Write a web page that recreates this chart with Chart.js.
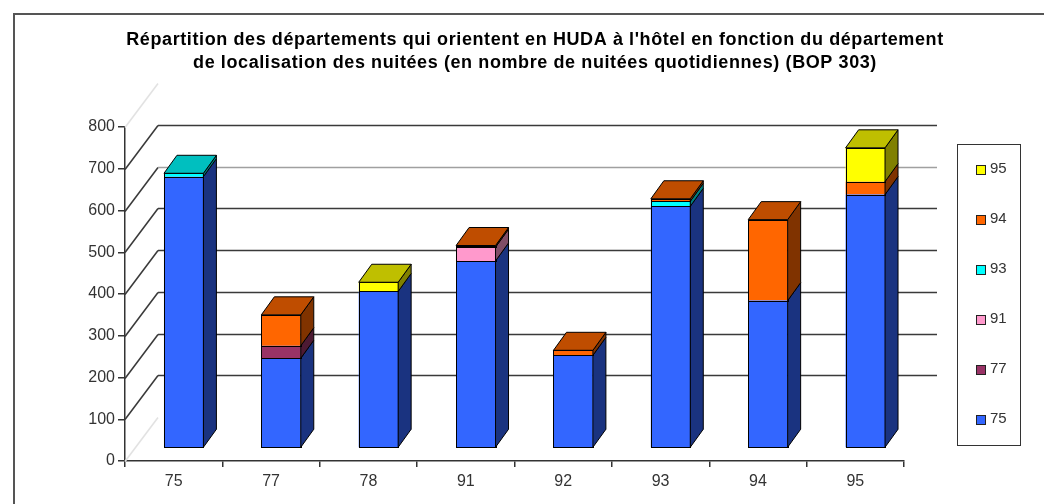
<!DOCTYPE html>
<html>
<head>
<meta charset="utf-8">
<script src="https://cdn.jsdelivr.net/npm/chart.js@4/dist/chart.umd.min.js"></script>
<style>
  html, body { margin: 0; padding: 0; background: #fff; }
  canvas { display: block; }
</style>
</head>
<body>
<canvas id="chart" width="1044" height="504"></canvas>
<script>
const TITLE = [
  "Répartition des départements qui orientent en HUDA à l'hôtel en fonction du département",
  "de localisation des nuitées (en nombre de nuitées quotidiennes) (BOP 303)"
];
const categories = ["75", "77", "78", "91", "92", "93", "94", "95"];
const yTicks = [0, 100, 200, 300, 400, 500, 600, 700, 800];

// nightly stays per orienting department, stacked bottom first
const dep75 = [650, 215, 375, 448, 222, 579, 353, 607];
const dep77 = [null, 30, null, null, null, null, null, null];
const dep91 = [null, null, null, 33, null, null, null, null];
const dep93 = [8, null, null, null, null, 12, null, null];
const dep94 = [null, 74, null, 4, 12, 6, 194, 31];
const dep95 = [null, null, 22, null, null, null, null, 81];

const seriesNames = ["75", "77", "91", "93", "94", "95"];
const seriesValues = [dep75, dep77, dep91, dep93, dep94, dep95];
const seriesColors = ["#3366ff", "#993366", "#ff99cc", "#00ffff", "#ff6600", "#ffff00"];

const FONT = "'Liberation Sans', Arial, sans-serif";
const DEPTH = { dx: 13, dy: -18 };  // bar depth
const SHIFT = { dx: 10, dy: -13 };  // bars sit a bit behind the front axis
const WALL = { dx: 33, dy: -44 };   // back wall offset

function shade(hex, f) {
  const n = parseInt(hex.slice(1), 16);
  const r = Math.round(((n >> 16) & 255) * f);
  const g = Math.round(((n >> 8) & 255) * f);
  const b = Math.round((n & 255) * f);
  return `rgb(${r},${g},${b})`;
}

function poly(ctx, pts, fill) {
  ctx.beginPath();
  ctx.moveTo(pts[0][0], pts[0][1]);
  for (let i = 1; i < pts.length; i++) ctx.lineTo(pts[i][0], pts[i][1]);
  ctx.closePath();
  ctx.fillStyle = fill;
  ctx.fill();
  ctx.stroke();
}

const fake3d = {
  id: "fake3d",
  beforeDraw(chart) {
    const ctx = chart.ctx;
    ctx.save();
    ctx.fillStyle = "#fff";
    ctx.fillRect(0, 0, chart.width, chart.height);
    // outer frame
    ctx.strokeStyle = "#555";
    ctx.lineWidth = 2;
    ctx.beginPath();
    ctx.moveTo(14, chart.height);
    ctx.lineTo(14, 14);
    ctx.lineTo(chart.width, 14);
    ctx.stroke();
    ctx.restore();
  },
  beforeDatasetsDraw(chart) {
    const { ctx, chartArea: a, scales: { y } } = chart;
    ctx.save();
    ctx.lineWidth = 1.5;
    yTicks.forEach((v, i) => {
      const py = Math.round(y.getPixelForValue(v)) + 0.5;
      const edge = i === 0 || i === yTicks.length - 1;
      ctx.strokeStyle = edge ? "#e2e2e2" : "#3a3a3a";
      ctx.beginPath();
      ctx.moveTo(a.left, py);
      ctx.lineTo(a.left + WALL.dx, py + WALL.dy);
      ctx.stroke();
      if (!edge) {
        ctx.strokeStyle = v === 600 ? "#a0a0a0" : "#3a3a3a";
        ctx.beginPath();
        ctx.moveTo(a.left + WALL.dx, py + WALL.dy);
        ctx.lineTo(a.right + WALL.dx, py + WALL.dy);
        ctx.stroke();
      }
    });
    ctx.restore();
    ctx.save();
    ctx.translate(SHIFT.dx, SHIFT.dy);
  },
  afterDatasetsDraw(chart) {
    const ctx = chart.ctx;
    ctx.lineWidth = 1;
    ctx.strokeStyle = "#000";
    const topIdx = [];
    chart.data.datasets.forEach((ds, i) => {
      const meta = chart.getDatasetMeta(i);
      meta.data.forEach((el, j) => {
        if (ds.data[j] == null) return;
        const p = el.getProps(["x", "y", "base", "width"], true);
        const l = p.x - p.width / 2, r = p.x + p.width / 2;
        const t = Math.min(p.y, p.base), b = Math.max(p.y, p.base);
        // outline of the front face
        ctx.strokeRect(Math.round(l) + 0.5, Math.round(t) + 0.5, Math.round(r) - Math.round(l), Math.round(b) - Math.round(t));
        poly(ctx, [[r, t], [r + DEPTH.dx, t + DEPTH.dy], [r + DEPTH.dx, b + DEPTH.dy], [r, b]],
          shade(ds.backgroundColor, 0.5));
        topIdx[j] = i;
      });
    });
    topIdx.forEach((i, j) => {
      if (i == null) return;
      const ds = chart.data.datasets[i];
      const p = chart.getDatasetMeta(i).data[j].getProps(["x", "y", "width"], true);
      const l = p.x - p.width / 2, r = p.x + p.width / 2;
      poly(ctx, [[l, p.y], [l + DEPTH.dx, p.y + DEPTH.dy], [r + DEPTH.dx, p.y + DEPTH.dy], [r, p.y]],
        shade(ds.backgroundColor, 0.75));
    });
    ctx.restore();
  },
  afterDraw(chart) {
    const ctx = chart.ctx;
    ctx.save();
    // title
    ctx.fillStyle = "#000";
    ctx.font = `bold 18px ${FONT}`;
    ctx.letterSpacing = "0.6px";
    ctx.textAlign = "center";
    ctx.textBaseline = "alphabetic";
    ctx.fillText(TITLE[0], 535, 45);
    ctx.fillText(TITLE[1], 535, 68);
    ctx.letterSpacing = "0px";
    // legend
    ctx.strokeStyle = "#333";
    ctx.lineWidth = 1;
    ctx.strokeRect(957.5, 144.5, 63, 301);
    ctx.font = `15px ${FONT}`;
    ctx.textAlign = "left";
    ctx.textBaseline = "middle";
    const items = chart.data.datasets.slice().reverse();
    items.forEach((ds, k) => {
      const cy = 169 + k * 50;
      ctx.fillStyle = ds.backgroundColor;
      ctx.fillRect(976, cy - 4, 9, 9);
      ctx.strokeStyle = "#222";
      ctx.strokeRect(976.5, cy - 3.5, 9, 9);
      ctx.fillStyle = "#333";
      ctx.fillText(ds.label, 990, cy);
    });
    ctx.restore();
  }
};

new Chart(document.getElementById("chart"), {
  type: "bar",
  data: {
    labels: categories,
    datasets: seriesNames.map((name, i) => ({
      label: name,
      data: seriesValues[i],
      backgroundColor: seriesColors[i],
      borderWidth: 0,
      categoryPercentage: 1,
      barPercentage: 0.405
    }))
  },
  options: {
    responsive: false,
    animation: false,
    layout: { padding: { top: 127, right: 140, left: 0, bottom: 0 } },
    plugins: {
      legend: { display: false },
      title: { display: false },
      tooltip: { enabled: false }
    },
    scales: {
      x: {
        stacked: true,
        afterFit: (s) => { s.height = 43; },
        border: { color: "#333", width: 1.5 },
        grid: { offset: true, drawOnChartArea: false, drawTicks: true, tickLength: 6, color: "#333", lineWidth: 1.5 },
        ticks: { color: "#333", font: { family: FONT, size: 16 }, padding: 5 }
      },
      y: {
        stacked: true,
        min: 0,
        max: 800,
        afterFit: (s) => { s.width = 125; },
        afterBuildTicks: (s) => { s.ticks = yTicks.map((v) => ({ value: v })); },
        border: { color: "#333", width: 1.5 },
        grid: { drawOnChartArea: false, drawTicks: true, tickLength: 7, color: "#333", lineWidth: 1.5 },
        ticks: { color: "#333", font: { family: FONT, size: 16 }, padding: 3 }
      }
    }
  },
  plugins: [fake3d]
});
</script>
</body>
</html>
